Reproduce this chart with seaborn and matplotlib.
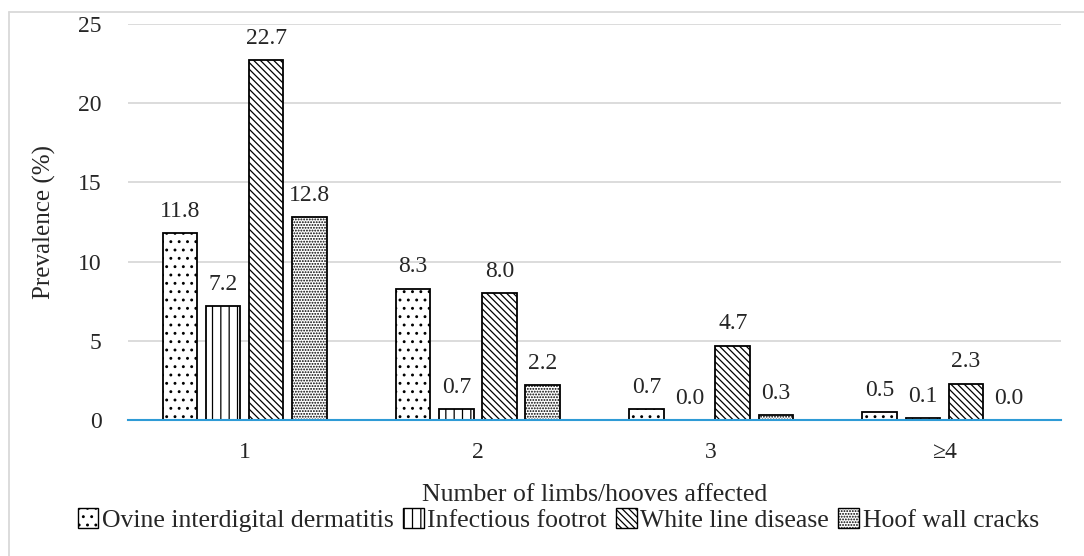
import pandas as pd
import matplotlib.pyplot as plt
import seaborn as sns
from matplotlib.patches import Patch
from matplotlib.lines import Line2D

groups = ["1", "2", "3", "\u22654"]
diseases = ["Ovine interdigital dermatitis", "Infectious footrot",
            "White line disease", "Hoof wall cracks"]
oid = [11.8, 8.3, 0.7, 0.5]
footrot = [7.2, 0.7, 0.0, 0.1]
white_line = [22.7, 8.0, 4.7, 2.3]
wall_cracks = [12.8, 2.2, 0.3, 0.0]
hatches = ["..", "||", "\\\\\\\\\\", "......"]

rows = []
for name, vals in zip(diseases, [oid, footrot, white_line, wall_cracks]):
    for g, v in zip(groups, vals):
        rows.append({"limbs": g, "disease": name, "value": v})
df = pd.DataFrame(rows)

sns.set_style("white")
plt.rcParams["font.family"] = ["Liberation Serif", "DejaVu Serif"]
plt.rcParams["hatch.linewidth"] = 0.9

fig = plt.figure(figsize=(10.84, 5.56), dpi=100)
ax = fig.add_axes([128 / 1084, 136 / 556, 933 / 1084, 396 / 556])

# light frame on top and left, as in the cropped source figure
fig.add_artist(Line2D([9 / 1084, 1], [1 - 12 / 556] * 2, color="#d9d9d9", lw=1.3,
                      transform=fig.transFigure))
fig.add_artist(Line2D([9 / 1084] * 2, [0, 1 - 12 / 556], color="#d9d9d9", lw=1.3,
                      transform=fig.transFigure))

sns.barplot(data=df, x="limbs", y="value", hue="disease", order=groups,
            hue_order=diseases, palette=["white"] * 4, width=0.74, gap=0.2,
            edgecolor="black", linewidth=1.3, legend=False, ax=ax)

for cont, h in zip(ax.containers, hatches):
    for bar in cont:
        bar.set_hatch(h)
    ax.bar_label(cont, fmt="%.1f", padding=8, fontsize=17)

ax.set_ylim(0, 25)
ax.set_yticks(range(0, 26, 5))
ax.grid(axis="y", color="#d9d9d9", linewidth=1.3)
ax.set_axisbelow(True)
for s in ["top", "right", "left"]:
    ax.spines[s].set_visible(False)
ax.spines["bottom"].set_color("#2e9bd6")
ax.spines["bottom"].set_linewidth(1.5)
ax.tick_params(axis="both", length=0, labelsize=17)
ax.tick_params(axis="y", pad=19)
ax.tick_params(axis="x", pad=16)
ax.set_ylabel("Prevalence (%)", fontsize=18, labelpad=16)
ax.set_xlabel("Number of limbs/hooves affected", fontsize=18.5, labelpad=15)

handles = [Patch(facecolor="white", edgecolor="black", hatch=h, label=d)
           for h, d in zip(hatches, diseases)]
fig.legend(handles=handles, loc="center", bbox_to_anchor=(0.515, 1 - 520 / 556),
           ncol=4, frameon=False, fontsize=18.5, handlelength=0.8,
           handleheight=0.8, handletextpad=0.15, columnspacing=0.35,
           borderaxespad=0, borderpad=0)

fig.savefig("out.png", dpi=100)
